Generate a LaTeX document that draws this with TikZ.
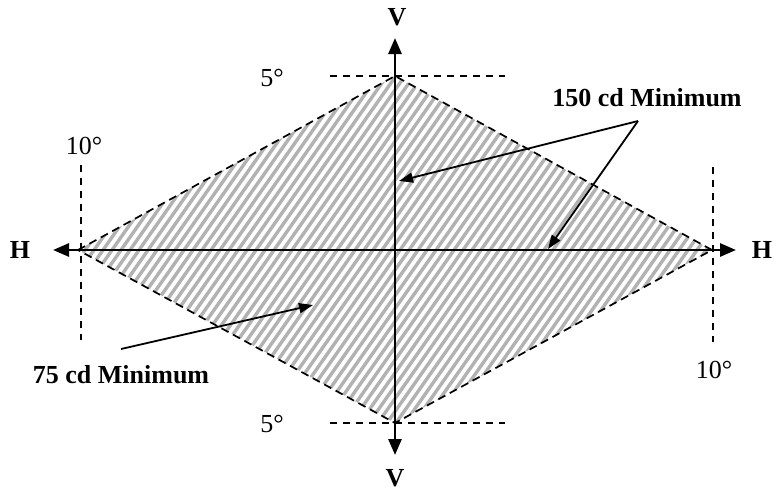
\documentclass[tikz,border=0pt]{standalone}
\usepackage{fontspec}
\setmainfont{Liberation Serif}
\usetikzlibrary{arrows.meta}
\begin{document}
\begin{tikzpicture}[x=1pt,y=-1pt,
  axis/.style={line width=2.8pt,-{Triangle[length=16pt,width=13pt]}},
  edge/.style={line width=1.7pt,dash pattern=on 8pt off 5pt},
  guide/.style={line width=1.3pt,dash pattern=on 7pt off 6pt},
  pointer/.style={line width=1.8pt,-{Triangle[length=14pt,width=10pt]}},
  lbl/.style={font=\fontsize{26}{28}\selectfont,inner sep=0pt},
  blbl/.style={font=\fontsize{26}{28}\selectfont\bfseries,inner sep=0pt}]
\useasboundingbox (0,0) rectangle (778,493);
\coordinate (L) at (78,250);
\coordinate (R) at (712,250);
\coordinate (T) at (395,76);
\coordinate (B) at (395,423);
% hatching
\begin{scope}
\clip (L) -- (T) -- (R) -- (B) -- cycle;
\foreach \i in {-400,-391,...,800}
  \draw[line width=3.4pt,color=black!30] (\i,493) -- (\i+345,0);
\end{scope}
\draw[edge] (L) -- (T) -- (R) -- (B) -- cycle;
% guide lines
\coordinate (tg1) at (330,76); \coordinate (tg2) at (505,76);
\coordinate (bg1) at (330,423); \coordinate (bg2) at (505,423);
\coordinate (lg1) at (81,165); \coordinate (lg2) at (81,340);
\coordinate (rg1) at (713,167); \coordinate (rg2) at (713,342);
\draw[guide] (tg1) -- (tg2);
\draw[guide] (bg1) -- (bg2);
\draw[guide] (lg1) -- (lg2);
\draw[guide] (rg1) -- (rg2);
% axes
\coordinate (Vt) at (395,38);
\coordinate (Vb) at (395,455);
\coordinate (Hl) at (53,250);
\coordinate (Hr) at (736,250);
\coordinate (O) at (395,250);
\draw[axis] (O) -- (Vt);
\draw[axis] (O) -- (Vb);
\draw[axis] (O) -- (Hl);
\draw[axis] (O) -- (Hr);
% labels
\node[blbl] (vt) at (397,17) {V};
\node[blbl] (vb) at (395,478) {V};
\node[blbl] (hl) at (20,250) {H};
\node[blbl] (hr) at (762,250) {H};
\node[lbl] (d5t) at (272,78) {5°};
\node[lbl] (d5b) at (272,424) {5°};
\node[lbl] (d10l) at (84,146) {10°};
\node[lbl] (d10r) at (714,370) {10°};
\node[blbl] (m150) at (647,98) {150 cd Minimum};
\node[blbl] (m75) at (121,375) {75 cd Minimum};
% pointers
\coordinate (p150) at (638,121);
\coordinate (a1) at (399,181);
\coordinate (a2) at (548,249);
\coordinate (p75) at (121,349);
\coordinate (a3) at (313,305);
\draw[pointer] (p150) -- (a1);
\draw[pointer] (p150) -- (a2);
\draw[pointer] (p75) -- (a3);
\end{tikzpicture}
\end{document}
